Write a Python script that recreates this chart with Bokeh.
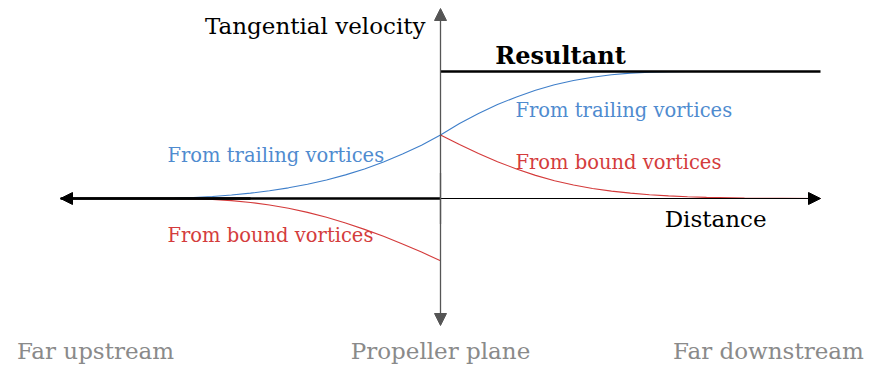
from bokeh.plotting import figure
from bokeh.models import Arrow, NormalHead, Label, Range1d
from bokeh.embed import file_html
from bokeh.resources import INLINE

# ---- data (distance: propeller plane = 0, far = +-1; velocity: resultant downstream = 1)
blue_left_x = [-0.70, -0.65, -0.60, -0.55, -0.50, -0.45, -0.40, -0.35, -0.30, -0.25, -0.20, -0.15, -0.10, -0.05, 0.0]
blue_left_y = [0.002, 0.008, 0.016, 0.027, 0.042, 0.061, 0.084, 0.112, 0.146, 0.186, 0.233, 0.288, 0.350, 0.420, 0.50]
red_left_x = [-0.70, -0.65, -0.60, -0.55, -0.50, -0.45, -0.40, -0.35, -0.30, -0.25, -0.20, -0.15, -0.10, -0.05, 0.0]
red_left_y = [0.0, -0.001, -0.007, -0.017, -0.031, -0.051, -0.077, -0.109, -0.148, -0.193, -0.243, -0.298, -0.358, -0.422, -0.49]
blue_right_x = [0.0, 0.05, 0.10, 0.15, 0.20, 0.25, 0.30, 0.35, 0.40, 0.45, 0.50, 0.55, 0.60, 0.65]
blue_right_y = [0.50, 0.590, 0.670, 0.740, 0.800, 0.852, 0.895, 0.929, 0.955, 0.974, 0.987, 0.995, 0.999, 1.0]
red_right_x = [0.0, 0.05, 0.10, 0.15, 0.20, 0.25, 0.30, 0.35, 0.40, 0.45, 0.50, 0.55, 0.60, 0.65, 0.70, 0.80, 0.90, 1.0]
red_right_y = [0.50, 0.425, 0.355, 0.290, 0.232, 0.182, 0.140, 0.106, 0.079, 0.058, 0.042, 0.030, 0.021, 0.014, 0.009, 0.003, 0.001, 0.0]
resultant_xs = [[-1.0, 0.0], [0.0, 1.0]]
resultant_ys = [[0.0, 0.0], [1.0, 1.0]]

y_axis_label = "Tangential velocity"
x_axis_label = "Distance"
resultant_label = "Resultant"
trailing_label = "From trailing vortices"
bound_label = "From bound vortices"
position_labels = ["Far upstream", "Propeller plane", "Far downstream"]
position_x = [-0.908, 0.0, 0.863]

BLUE = "#3f7fca"
RED = "#d43a3a"
BLUE_T = "#4f8bcf"
RED_T = "#d43c3c"
GRAY = "#8a8a8a"
AXIS_GRAY = "#555555"
FONT = "DejaVu Serif"

W, H = 870, 368
# page pixel (px,py) -> data: x=(px-440)/380, y=(198-py)/127
p = figure(width=W, height=H, output_backend="svg", toolbar_location=None,
           x_range=Range1d((0 - 440) / 380, (870 - 440) / 380),
           y_range=Range1d((198 - 368) / 127, (198 - 0) / 127),
           min_border=0)
p.xaxis.visible = False
p.yaxis.visible = False
p.grid.visible = False
p.outline_line_color = None
p.background_fill_color = "white"

# axes
p.add_layout(Arrow(end=NormalHead(size=12, fill_color="black", line_color="black"),
                   x_start=0, y_start=0, x_end=1.0, y_end=0, line_color="black", line_width=1))
p.add_layout(Arrow(end=NormalHead(size=12, fill_color=AXIS_GRAY, line_color=AXIS_GRAY),
                   x_start=0, y_start=-0.2, x_end=0, y_end=1.496, line_color=AXIS_GRAY, line_width=1.3))
p.add_layout(Arrow(end=NormalHead(size=12, fill_color=AXIS_GRAY, line_color=AXIS_GRAY),
                   x_start=0, y_start=0.2, x_end=0, y_end=-1.0, line_color=AXIS_GRAY, line_width=1.3))

# curves
p.line(blue_left_x, blue_left_y, line_color=BLUE, line_width=1.1)
p.line(blue_right_x, blue_right_y, line_color=BLUE, line_width=1.1)
p.line(red_left_x, red_left_y, line_color=RED, line_width=1.1)
p.line(red_right_x, red_right_y, line_color=RED, line_width=1.1)

# resultant
p.multi_line(resultant_xs, resultant_ys, line_color="black", line_width=2.6)
p.add_layout(Arrow(end=NormalHead(size=12, fill_color="black", line_color="black"),
                   x_start=-0.5, y_start=0, x_end=-1.0, y_end=0, line_color="black", line_width=2.6))

def lab(text, x, y, color="black", size="19.5px", align="left", style="normal"):
    p.add_layout(Label(x=x, y=y, text=text, text_color=color, text_font=FONT,
                       text_font_size=size, text_align=align, text_baseline="middle",
                       text_font_style=style))

lab(y_axis_label, (425 - 440) / 380, (198 - 25) / 127, size="23px", align="right")
lab(resultant_label, (560 - 440) / 380, (198 - 55) / 127, size="24px", align="center", style="bold")
lab(trailing_label, (515 - 440) / 380, (198 - 110) / 127, color=BLUE_T)
lab(bound_label, (515 - 440) / 380, (198 - 162) / 127, color=RED_T)
lab(trailing_label, (167 - 440) / 380, (198 - 155) / 127, color=BLUE_T)
lab(bound_label, (167 - 440) / 380, (198 - 235) / 127, color=RED_T)
lab(x_axis_label, (766 - 440) / 380, (198 - 218) / 127, size="23px", align="right")
for t, x in zip(position_labels, position_x):
    lab(t, x, (198 - 350) / 127, color=GRAY, size="23px", align="center")

open("out.html", "w").write(file_html(p, INLINE))
